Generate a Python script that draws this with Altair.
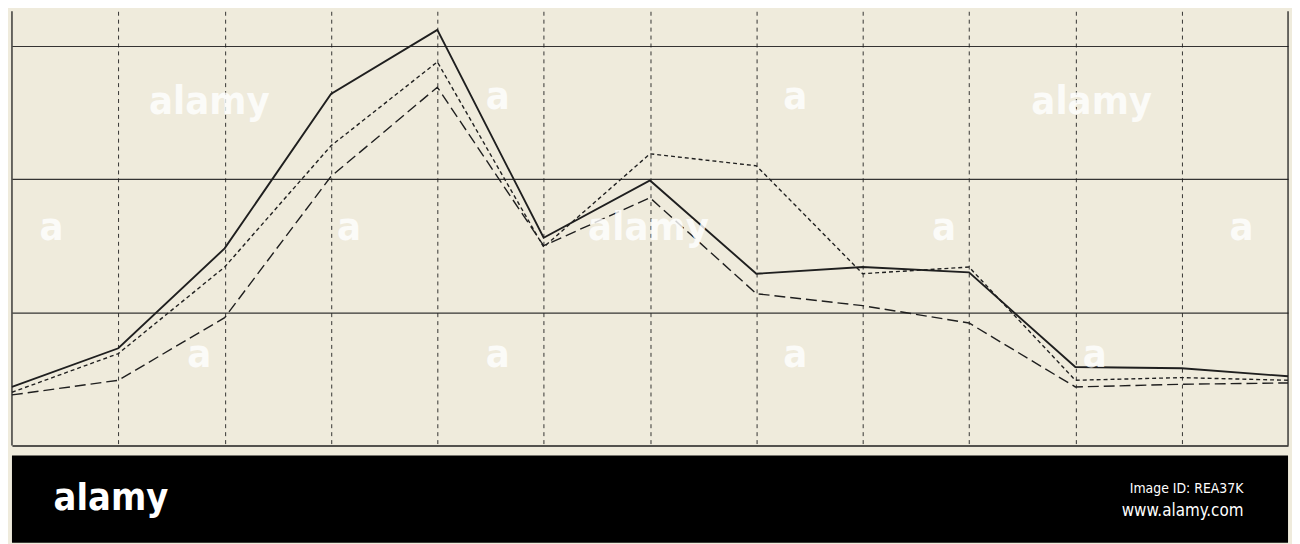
import altair as alt
import pandas as pd

# x positions (column index) and the three series (units of the horizontal grid)
steps = list(range(13))
solid = [0.44, 0.73, 1.48, 2.64, 3.12, 1.56, 1.99, 1.29, 1.34, 1.30, 0.59, 0.58, 0.52]
short_dash = [0.40, 0.69, 1.34, 2.25, 2.88, 1.49, 2.19, 2.10, 1.29, 1.34, 0.49, 0.51, 0.49]
long_dash = [0.38, 0.49, 0.96, 2.02, 2.69, 1.50, 1.86, 1.14, 1.05, 0.92, 0.44, 0.46, 0.47]
vgrid = list(range(1, 12))
hgrid = [1, 2, 3]
borders = [0, 12]

BG = "#efebdc"
INK = "#1f1f1f"
W, H = 1287, 438
FONT = "Liberation Sans Narrow, DejaVu Sans Condensed, Roboto Condensed, Roboto, sans-serif"

xs = alt.Scale(domain=[0, 12], nice=False, zero=False)
ys = alt.Scale(domain=[0, 3.26], nice=False)

df = pd.DataFrame({"step": steps, "solid": solid, "short": short_dash, "long": long_dash})

def line(col, dash, width):
    kw = dict(color=INK, strokeWidth=width, clip=False)
    if dash:
        kw["strokeDash"] = dash
    return alt.Chart(df).mark_line(**kw).encode(
        x=alt.X("step:Q", scale=xs,
                axis=alt.Axis(values=vgrid, grid=True, gridDash=[4, 4], gridColor=INK,
                              gridWidth=1, gridOpacity=0.9, domain=True, domainColor=INK,
                              domainWidth=1.6, ticks=False, labels=False, title=None)),
        y=alt.Y(f"{col}:Q", scale=ys,
                axis=alt.Axis(values=hgrid, grid=True, gridColor=INK, gridWidth=1.2,
                              gridOpacity=0.9, domain=False, ticks=False, labels=False,
                              title=None)),
    )

border_rules = alt.Chart(pd.DataFrame({"b": borders})).mark_rule(color=INK, strokeWidth=1.3).encode(
    x=alt.X("b:Q", scale=xs), y=alt.value(0), y2=alt.value(H)
)

# faint watermark texts inside the plot (pixel positions)
wm_big = pd.DataFrame({"t": ["alamy", "alamy", "alamy"], "px": [199, 642, 1089], "py": [92, 219, 92]})
wm_small = pd.DataFrame({
    "t": ["a"] * 10,
    "px": [40, 340, 189, 490, 790, 490, 790, 940, 1240, 1092],
    "py": [219, 219, 347, 87, 87, 347, 347, 219, 219, 347],
})
wm1 = alt.Chart(wm_big).mark_text(font=FONT, fontWeight="bold", fontSize=40,
                                  color="white", opacity=0.8, baseline="middle").encode(
    x=alt.X("px:Q", scale=None), y=alt.Y("py:Q", scale=None), text="t:N")
wm2 = alt.Chart(wm_small).mark_text(font=FONT, fontWeight="bold", fontSize=40,
                                    color="white", opacity=0.8, baseline="middle").encode(
    x=alt.X("px:Q", scale=None), y=alt.Y("py:Q", scale=None), text="t:N")

plot = alt.layer(
    line("solid", None, 1.9),
    line("short", [4, 3], 1.4),
    line("long", [11, 5], 1.4),
    border_rules,
    wm1,
    wm2,
).properties(width=W, height=H)

# bottom black strip with stock-site texts
logo = pd.DataFrame({"t": ["alamy"]})
idtxt = pd.DataFrame({"t": ["Image ID: REA37K"]})
urltxt = pd.DataFrame({"t": ["www.alamy.com"]})
b1 = alt.Chart(logo).mark_text(font=FONT, fontWeight="bold", fontSize=38,
                               color="white", align="left", baseline="alphabetic").encode(
    x=alt.value(42), y=alt.value(55), text="t:N")
b2 = alt.Chart(idtxt).mark_text(font=FONT, fontSize=14, color="white",
                                align="right", baseline="alphabetic").encode(
    x=alt.value(1242), y=alt.value(38), text="t:N")
b3 = alt.Chart(urltxt).mark_text(font=FONT, fontSize=17, color="white",
                                 align="right", baseline="alphabetic").encode(
    x=alt.value(1242), y=alt.value(61), text="t:N")
strip = alt.layer(b1, b2, b3).properties(
    width=W, height=88, view=alt.ViewBackground(fill="black", stroke=None)
)

chart = alt.vconcat(plot, strip, spacing=9).properties(
    background=BG, padding=0
).configure_view(stroke=None)

chart.save("out.html", embed_options={"renderer": "svg", "actions": False})
